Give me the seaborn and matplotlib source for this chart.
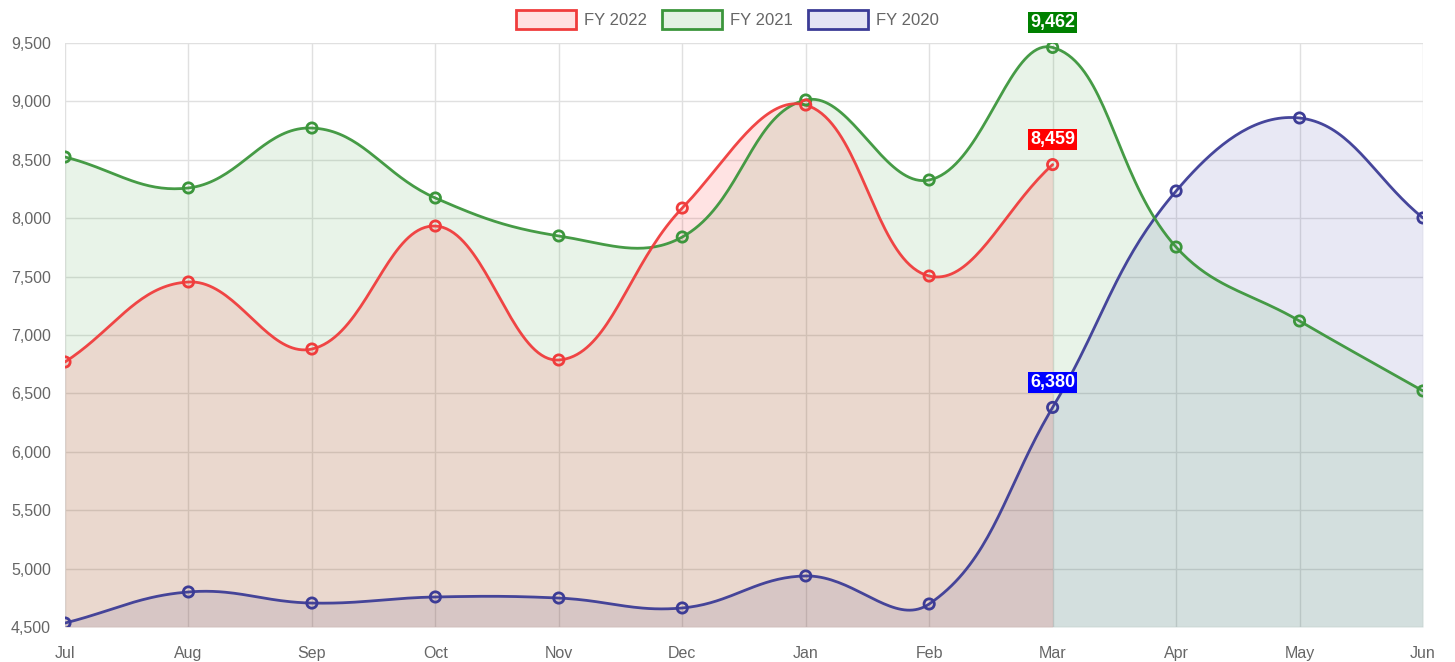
"""
Monthly comparison chart, three fiscal years
"""

import matplotlib.pyplot as plt
import numpy as np
import pandas as pd
import seaborn as sns
from matplotlib.colors import to_rgb
from matplotlib.patches import Patch
from matplotlib.ticker import FuncFormatter

months = ["Jul", "Aug", "Sep", "Oct", "Nov", "Dec", "Jan", "Feb", "Mar", "Apr", "May", "Jun"]
fy2022 = [6769, 7454, 6880, 7933, 6786, 8087, 8969, 7505, 8459]
fy2021 = [8524, 8259, 8772, 8173, 7848, 7839, 9012, 8327, 9462, 7753, 7120, 6521]
fy2020 = [4534, 4800, 4705, 4757, 4748, 4663, 4937, 4697, 6380, 8233, 8858, 8002]
series_names = ["FY 2022", "FY 2021", "FY 2020"]

line_colors = ["#f03c3c", "#3c963c", "#3c3c96"]
fill_colors = ["#ff0000", "#2e9a2e", "#3030a0"]
label_colors = ["#ff0000", "#008000", "#0000ff"]

Y_MIN, Y_MAX = 4500, 9500


def spline(values, tension=0.4, steps=40):
    """Chart.js style cubic bezier through points, computed in pixel-like space."""
    sx, sy = 123.45, 584.0 / (Y_MAX - Y_MIN)
    pts = np.array([[i * sx, v * sy] for i, v in enumerate(values)])
    n = len(pts)
    cps = []
    for i in range(n):
        prev = pts[max(i - 1, 0)]
        cur = pts[i]
        nxt = pts[min(i + 1, n - 1)]
        d01 = np.hypot(*(cur - prev))
        d12 = np.hypot(*(nxt - cur))
        tot = d01 + d12
        s01 = d01 / tot if tot else 0
        s12 = d12 / tot if tot else 0
        cp_prev = cur - tension * s01 * (nxt - prev)
        cp_next = cur + tension * s12 * (nxt - prev)
        cps.append((cp_prev, cp_next))
    xs, ys = [], []
    t = np.linspace(0, 1, steps)[:, None]
    for i in range(n - 1):
        p0, p3 = pts[i], pts[i + 1]
        p1, p2 = cps[i][1], cps[i + 1][0]
        seg = ((1 - t) ** 3) * p0 + 3 * ((1 - t) ** 2) * t * p1 + 3 * (1 - t) * t**2 * p2 + t**3 * p3
        xs.extend(seg[:, 0] / sx)
        ys.extend(seg[:, 1] / sy)
    return np.array(xs), np.array(ys)


sns.set_style("whitegrid")
plt.rcParams["font.family"] = ["Liberation Sans", "DejaVu Sans"]

fig = plt.figure(figsize=(14.55, 6.62), dpi=100)
ax = fig.add_axes([65 / 1455, 35 / 662, (1423 - 65) / 1455, (627 - 43) / 662])

all_series = [fy2022, fy2021, fy2020]
# draw bottom dataset first so FY 2022 ends up on top
for k in [2, 1, 0]:
    vals = all_series[k]
    xs, ys = spline(vals)
    ax.fill_between(xs, Y_MIN, ys, color=fill_colors[k], alpha=0.11, lw=0, zorder=2)
    curve = pd.DataFrame({"x": xs, "y": ys})
    sns.lineplot(data=curve, x="x", y="y", color=line_colors[k], lw=2, alpha=0.95, sort=False, ax=ax,
                 zorder=4 - k * 0.1)
    pts = pd.DataFrame({"x": np.arange(len(vals)), "y": vals})
    sns.scatterplot(data=pts, x="x", y="y", s=55, facecolor="none", edgecolor=line_colors[k],
                    linewidth=2, ax=ax, zorder=5 - k * 0.1)

# value labels at Mar
mar = months.index("Mar")
for k in range(3):
    v = all_series[k][mar]
    ax.annotate(f"{v:,}", (mar, v), xytext=(0, 18), textcoords="offset points", ha="center", va="center",
                color="white", fontsize=13, fontweight="bold", annotation_clip=False, zorder=10,
                bbox=dict(boxstyle="square,pad=0.12", fc=label_colors[k], ec="none"))

ax.set_xlim(0, len(months) - 1)
ax.set_ylim(Y_MIN, Y_MAX)
ax.set_xticks(range(len(months)))
ax.set_xticklabels(months)
ax.set_yticks(np.arange(Y_MIN, Y_MAX + 1, 500))
ax.yaxis.set_major_formatter(FuncFormatter(lambda v, p: f"{int(v):,}"))
ax.set_xlabel("")
ax.set_ylabel("")
ax.grid(True, color="#e0e0e0", lw=1)
for s in ax.spines.values():
    s.set_visible(False)
ax.tick_params(axis="both", colors="#e0e0e0", labelcolor="#666666", labelsize=11.5, length=6, width=1)
ax.tick_params(axis="x", pad=8)
ax.tick_params(axis="y", pad=4)

handles = [Patch(facecolor=(*to_rgb(fill_colors[k]), 0.12), edgecolor=line_colors[k], lw=2) for k in range(3)]
fig.legend(handles, series_names, loc="upper center", bbox_to_anchor=(0.5, 1.0), ncol=3, frameon=False,
           fontsize=12, labelcolor="#666666", handlelength=3.6, handleheight=1.35, columnspacing=0.9,
           handletextpad=0.5, borderaxespad=0.2)

fig.savefig("out.png", dpi=100)
